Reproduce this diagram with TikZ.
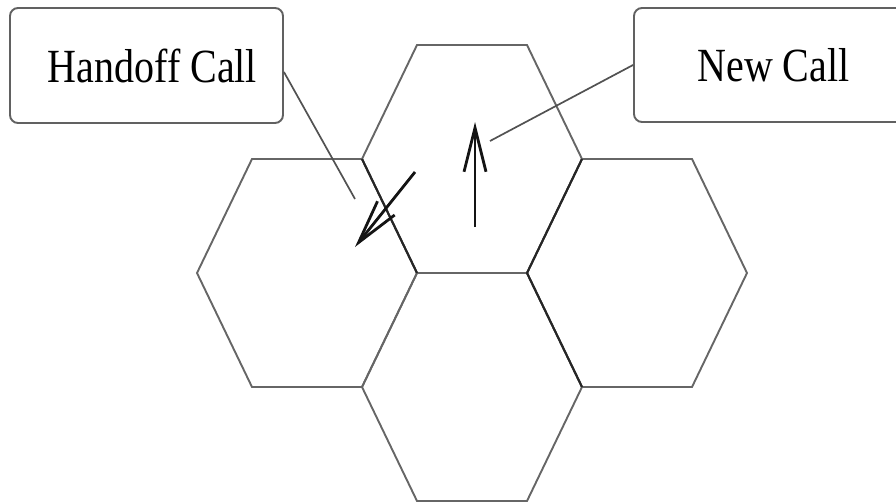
\documentclass[tikz,border=0pt]{standalone}
\usepackage{graphicx}
\usepackage{fontspec}
\setmainfont{Liberation Serif}
\usetikzlibrary{arrows.meta}
\begin{document}
\begin{tikzpicture}[x=1pt,y=-1pt,
  hexline/.style={draw=black!60,line width=1.9pt,line join=miter},
  sharededge/.style={draw=black!85,line width=2.1pt},
  callbox/.style={draw=black!62,line width=1.9pt,rounded corners=8pt,fill=white,
    font=\fontsize{40}{48}\selectfont,inner sep=0pt},
  leader/.style={draw=black!68,line width=1.7pt},
  motion/.style={draw=black!92,line width=2.8pt,
    -{Straight Barb[length=44pt,width=22pt,line width=2.8pt]}},
  hexcell/.pic={\path[hexline] (-110,0) -- (-55,-114) -- (55,-114) -- (110,0)
    -- (55,114) -- (-55,114) -- cycle;}]
\useasboundingbox (0,0) rectangle (896,503);
\clip (0,0) rectangle (896,503);

% four hexagonal cells
\pic at (472,159) {hexcell};
\pic at (307,273) {hexcell};
\pic at (637,273) {hexcell};
\pic at (472,387) {hexcell};

% edges shared by two cells, traced twice and so darker
\draw[sharededge] (362,159) -- (417,273);
\draw[sharededge] (582,159) -- (527,273);
\draw[sharededge] (527,273) -- (582,387);

% callout boxes
\node[callbox,minimum width=273pt,minimum height=115pt] (handoff) at (146.5,65.5)
  {\hspace*{12pt}\scalebox{1}[1.19]{Handoff Call}};
\node[callbox,minimum width=279pt,minimum height=114pt] (newcall) at (773.5,65)
  {\scalebox{1}[1.19]{New Call}};

% leader lines from the callouts
\coordinate (hoend) at (355,199);
\coordinate (ncend) at (490,141);
\draw[leader] (handoff.east |- 0,72) -- (hoend);
\draw[leader] (newcall.west) -- (ncend);

% call movement arrows
\coordinate (hofrom) at (415,172);
\coordinate (hoto) at (355,247);
\coordinate (ncfrom) at (475,227);
\coordinate (ncto) at (475,122);
\draw[motion] (hofrom) -- (hoto);
\draw[motion] (ncfrom) -- (ncto);
\end{tikzpicture}
\end{document}
